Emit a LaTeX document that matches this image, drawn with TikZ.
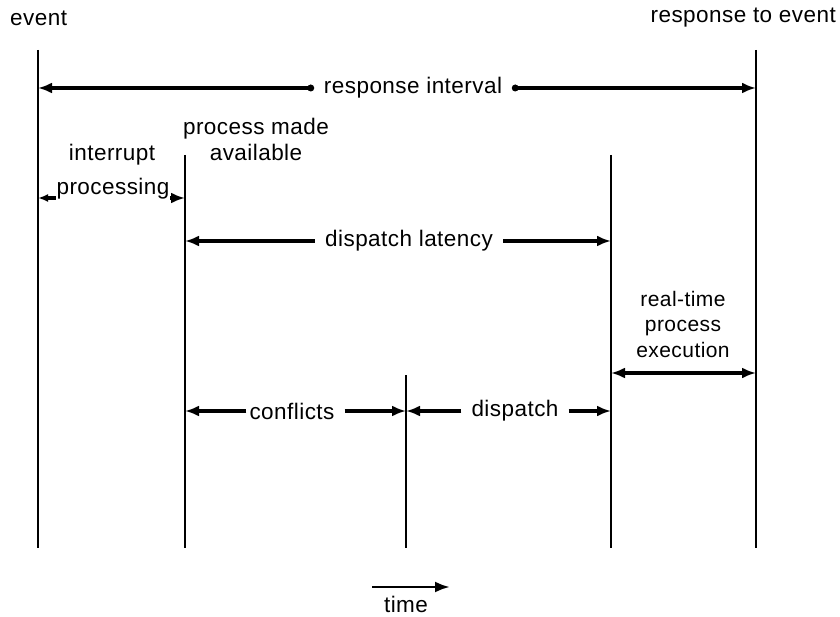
\documentclass[tikz,border=0pt]{standalone}
\usepackage{fontspec}
\setmainfont{Liberation Sans}[LetterSpace=2]
\usetikzlibrary{arrows.meta}
\begin{document}
\begin{tikzpicture}[x=1pt,y=-1pt,
  vline/.style={line width=2.8pt},
  dim/.style={line width=3.4pt,-{Latex[length=14pt,width=11pt]}},
  lbl/.style={font=\fontsize{22.5}{26}\selectfont, inner sep=0pt},
  slbl/.style={font=\fontsize{21}{25.5}\selectfont, inner sep=0pt, align=center},
  gap/.style={inner xsep=10pt},
  dot/.style={fill=black}]
\useasboundingbox (0,0) rectangle (840,617);

% vertical time lines
\coordinate (evT) at (38,50);   \coordinate (evB) at (38,548);
\coordinate (paT) at (185,155); \coordinate (paB) at (185,548);
\coordinate (cdT) at (406,375); \coordinate (cdB) at (406,548);
\coordinate (dpT) at (611,155); \coordinate (dpB) at (611,548);
\coordinate (reT) at (756,50);  \coordinate (reB) at (756,548);
\draw[vline] (evT) -- (evB);
\draw[vline] (paT) -- (paB);
\draw[vline] (cdT) -- (cdB);
\draw[vline] (dpT) -- (dpB);
\draw[vline] (reT) -- (reB);

% top labels
\node[lbl, anchor=west] (event) at (10,18) {event};
\node[lbl, anchor=east] (resp) at (836,18) {response to event};

% response interval
\coordinate (riL) at (38,88); \coordinate (riR) at (756,88);
\node[lbl, inner xsep=13pt] (ri) at (413,88) {response interval};
\draw[dim] (ri.west) -- (riL);
\draw[dim] (ri.east) -- (riR);
\fill[dot] (ri.west) circle (3.5pt);
\fill[dot] (ri.east) circle (3.5pt);

% process made available
\node[lbl, align=center] (pma) at (256,139) {process made\\available};

% interrupt processing
\coordinate (ipL) at (38,198); \coordinate (ipR) at (185,198);
\draw[line width=3.4pt, {Latex[length=10pt,width=8pt]}-{Latex[length=14pt,width=11pt]}] (ipL) -- (ipR);
\node[lbl] (intr) at (112,155) {interrupt};
\node[lbl, fill=white, inner xsep=1pt, inner ysep=6pt] (proc) at (113,189) {processing};

% dispatch latency
\coordinate (dlL) at (185,241); \coordinate (dlR) at (611,241);
\node[lbl, gap] (dl) at (409,241) {dispatch latency};
\draw[dim] (dl.west) -- (dlL);
\draw[dim] (dl.east) -- (dlR);

% real-time process execution
\node[slbl] (rt) at (683,324) {real-time\\process\\execution};
\coordinate (rtL) at (611,373); \coordinate (rtR) at (756,373);
\draw[line width=3.4pt, {Latex[length=14pt,width=11pt]}-{Latex[length=14pt,width=11pt]}] (rtL) -- (rtR);

% conflicts
\coordinate (cfL) at (185,411); \coordinate (cfR) at (406,411);
\node[lbl, inner xsep=3pt] (cf) at (292,411) {conflicts};
\draw[dim] (cf.west) -- (cfL);
\draw[dim] ([xshift=7pt]cf.east) -- (cfR);

% dispatch
\coordinate (dsL) at (406,411); \coordinate (dsR) at (611,411);
\node[lbl, gap] (ds) at (515,411) {dispatch};
\draw[dim] (ds.west) -- (dsL);
\draw[dim] (ds.east) -- (dsR);

% time
\coordinate (tL) at (372,587); \coordinate (tR) at (450,587);
\draw[line width=2.8pt, -{Latex[length=15pt,width=11pt]}] (tL) -- (tR);
\node[lbl] (time) at (406,604) {time};
\end{tikzpicture}
\end{document}
